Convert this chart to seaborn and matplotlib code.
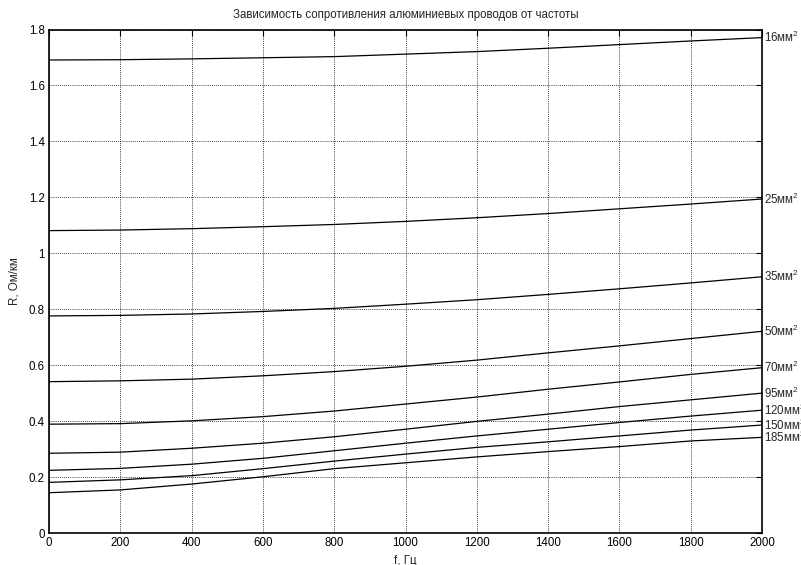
import matplotlib
matplotlib.use("Agg")
import matplotlib.pyplot as plt
import seaborn as sns
import pandas as pd

# Frequency points, Hz
freq = [0, 200, 400, 600, 800, 1000, 1200, 1400, 1600, 1800, 2000]

# Conductor cross sections, mm^2
sections = ["16", "25", "35", "50", "70", "95", "120", "150", "185"]

# Active resistance of aluminium wires, Ohm/km, at each frequency point
r16 = [1.691, 1.692, 1.695, 1.699, 1.703, 1.712, 1.721, 1.733, 1.746, 1.759, 1.771]
r25 = [1.081, 1.083, 1.088, 1.095, 1.103, 1.114, 1.127, 1.142, 1.159, 1.176, 1.194]
r35 = [0.776, 0.778, 0.783, 0.792, 0.803, 0.818, 0.834, 0.853, 0.873, 0.894, 0.916]
r50 = [0.541, 0.544, 0.550, 0.562, 0.577, 0.596, 0.618, 0.644, 0.669, 0.695, 0.721]
r70 = [0.389, 0.391, 0.401, 0.416, 0.436, 0.461, 0.486, 0.514, 0.540, 0.567, 0.591]
r95 = [0.285, 0.289, 0.303, 0.321, 0.344, 0.371, 0.399, 0.425, 0.452, 0.476, 0.500]
r120 = [0.224, 0.231, 0.246, 0.267, 0.294, 0.321, 0.347, 0.371, 0.395, 0.418, 0.439]
r150 = [0.181, 0.190, 0.205, 0.230, 0.257, 0.282, 0.306, 0.326, 0.347, 0.368, 0.386]
r185 = [0.144, 0.154, 0.175, 0.201, 0.230, 0.251, 0.272, 0.291, 0.309, 0.329, 0.342]

series = [r16, r25, r35, r50, r70, r95, r120, r150, r185]

title = "Зависимость сопротивления алюминиевых проводов от частоты"
xlabel = "f, Гц"
ylabel = "R, Ом/км"
xticks = [0, 200, 400, 600, 800, 1000, 1200, 1400, 1600, 1800, 2000]
yticks = [0, 0.2, 0.4, 0.6, 0.8, 1.0, 1.2, 1.4, 1.6, 1.8]
ytick_labels = ["0", "0.2", "0.4", "0.6", "0.8", "1", "1.2", "1.4", "1.6", "1.8"]

sns.set_style("white")
plt.rcParams["font.family"] = ["Liberation Sans", "DejaVu Sans"]
plt.rcParams["mathtext.fontset"] = "custom"
plt.rcParams["mathtext.rm"] = "Liberation Sans"
plt.rcParams["mathtext.it"] = "Liberation Sans:italic"
plt.rcParams["mathtext.bf"] = "Liberation Sans:bold"

rows = []
for name, vals in zip(sections, series):
    for f, r in zip(freq, vals):
        rows.append({"f": f, "R": r, "section": name})
df = pd.DataFrame(rows)

fig = plt.figure(figsize=(8.01, 5.65), dpi=100)
ax = fig.add_axes([49 / 801, 32 / 565, 713 / 801, 503.5 / 565])

sns.lineplot(data=df, x="f", y="R", hue="section", hue_order=sections,
             palette=["black"] * len(sections), linewidth=0.9,
             legend=False, ax=ax)

ax.set_xlim(0, 2000)
ax.set_ylim(0, 1.8)
ax.set_xticks(xticks)
ax.set_xticklabels([str(t) for t in xticks])
ax.set_yticks(yticks)
ax.set_yticklabels(ytick_labels)

ax.grid(True, color="black", linestyle=(0, (1, 1.5)), linewidth=0.6)
ax.tick_params(direction="in", length=4, width=0.8, top=True, right=True,
               labelsize=8.3, colors="black", pad=3)
for sp in ax.spines.values():
    sp.set_visible(True)
    sp.set_color("black")
    sp.set_linewidth(1.2)

ax.set_title(title, fontsize=8.3, pad=8)
ax.set_xlabel(xlabel, fontsize=8.3, labelpad=4)
ax.set_ylabel(ylabel, fontsize=8.3, labelpad=6)

# Cross-section labels at the right end of each curve
for name, vals in zip(sections, series):
    ax.annotate(name + "мм$^2$", xy=(freq[-1], vals[-1]), xytext=(1.5, 0),
                textcoords="offset points", va="center", ha="left",
                fontsize=8.3, annotation_clip=False)

fig.savefig("out.png", dpi=100)
